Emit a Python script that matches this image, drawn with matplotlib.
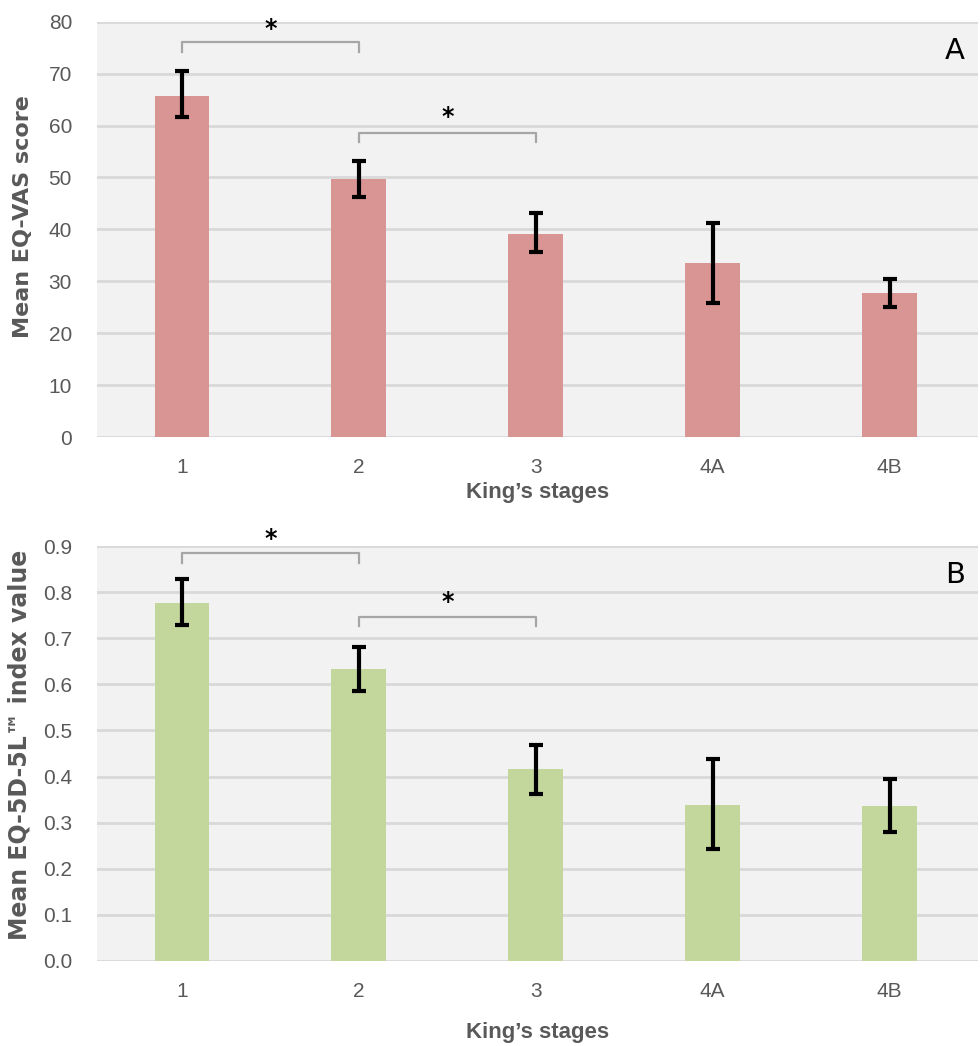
import numpy as np
import matplotlib
matplotlib.use("Agg")
import matplotlib.pyplot as plt

stages = ["1", "2", "3", "4A", "4B"]

vas_mean = [65.7, 49.8, 39.2, 33.5, 27.7]
vas_lo = [61.6, 46.3, 35.6, 25.9, 25.0]
vas_hi = [70.6, 53.2, 43.1, 41.2, 30.5]

eq_mean = [0.776, 0.633, 0.416, 0.339, 0.336]
eq_lo = [0.728, 0.585, 0.362, 0.242, 0.279]
eq_hi = [0.828, 0.680, 0.468, 0.437, 0.394]

# significance brackets: (from, to, bracket y, tick bottom y, star y)
vas_sig = [(0, 1, 76.1, 74.2, 78.6), (1, 2, 58.6, 56.9, 61.6)]
eq_sig = [(0, 1, 0.885, 0.863, 0.915), (1, 2, 0.746, 0.727, 0.778)]

tick_font = "Liberation Sans"
grey_txt = "#595959"
grid_c = "#D9D9D9"
bg = "#F2F2F2"

fig = plt.figure(figsize=(9.8, 10.46), dpi=100)
ax1 = fig.add_axes([0.099, 0.5822, 0.899, 0.397])
ax2 = fig.add_axes([0.099, 0.0813, 0.899, 0.3967])


def panel(ax, mean, lo, hi, color, yticks, ylim, fmt, letter, sig):
    x = np.arange(len(stages))
    mean = np.array(mean)
    err = [mean - np.array(lo), np.array(hi) - mean]
    ax.set_facecolor(bg)
    ax.set_axisbelow(True)
    ax.yaxis.grid(True, color=grid_c, lw=2)
    ax.bar(x, mean, width=0.31, color=color, zorder=2)
    ax.errorbar(x, mean, yerr=err, fmt="none", ecolor="black", elinewidth=3,
                capsize=4.8, capthick=3, zorder=3)
    ax.set_xlim(-0.48, 4.5)
    ax.set_ylim(*ylim)
    ax.set_yticks(yticks)
    ax.set_yticklabels([fmt.format(v) for v in yticks], fontsize=15,
                       color=grey_txt, family=tick_font)
    ax.set_xticks(x)
    ax.set_xticklabels(stages, fontsize=15, color=grey_txt, family=tick_font)
    ax.tick_params(axis="x", length=0, pad=15)
    ax.tick_params(axis="y", length=0, pad=18)
    for s in ax.spines.values():
        s.set_visible(False)
    ax.text(0.985, 0.93, letter, transform=ax.transAxes, ha="right", va="center",
            fontsize=21, color="black")
    for a, b, yb, yt, ys in sig:
        ax.plot([a, a, b, b], [yt, yb, yb, yt], color="#A6A6A6", lw=1.6,
                clip_on=False, zorder=4)
        ax.text((a + b) / 2, ys, "*", ha="center", va="center", fontsize=17,
                fontweight="bold", color="black", clip_on=False)
    ax.set_xlabel("King\u2019s stages", fontsize=16, fontweight="bold",
                  color=grey_txt, family=tick_font)


panel(ax1, vas_mean, vas_lo, vas_hi, "#D99594", list(range(0, 81, 10)), (0, 80),
      "{:d}", "A", vas_sig)
ax1.set_ylabel("Mean EQ-VAS score", fontsize=16, fontweight="bold", color=grey_txt)
ax1.yaxis.set_label_coords(-0.073, 0.53)
ax1.xaxis.set_label_coords(0.5, -0.108)

panel(ax2, eq_mean, eq_lo, eq_hi, "#C3D69B", [i / 10 for i in range(10)], (0, 0.9),
      "{:.1f}", "B", eq_sig)
ax2.set_ylabel("Mean EQ-5D-5L\u2122 index value", fontsize=17, fontweight="bold",
               color=grey_txt)
ax2.yaxis.set_label_coords(-0.074, 0.52)
ax2.xaxis.set_label_coords(0.5, -0.147)

fig.savefig("out.png", dpi=100)
